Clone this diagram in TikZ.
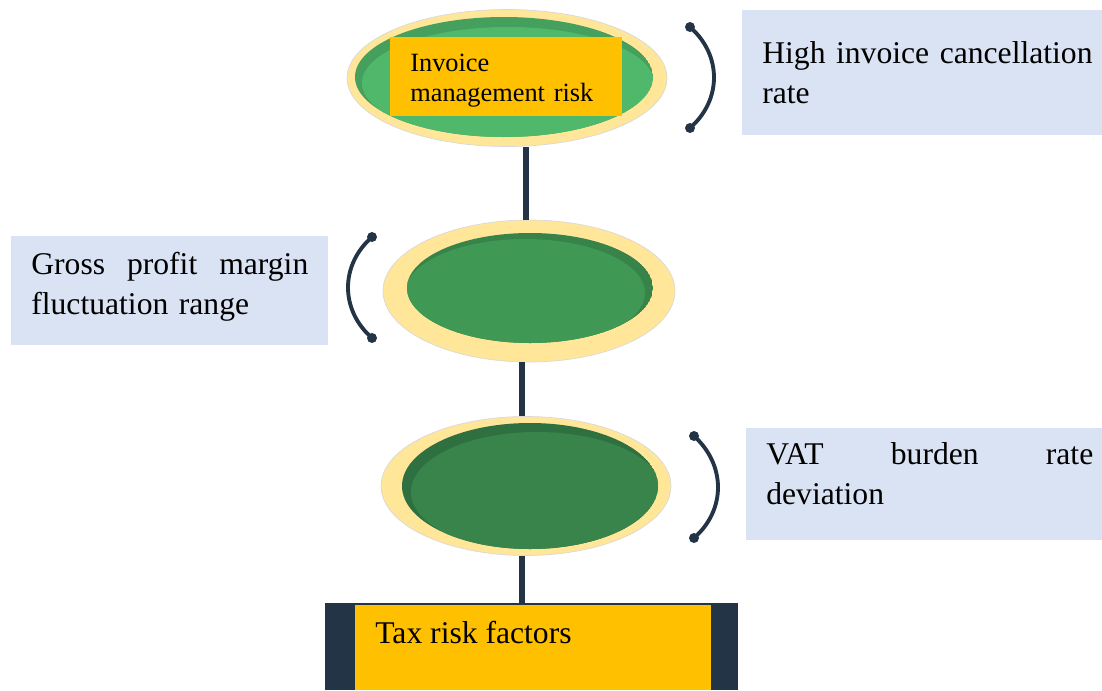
\documentclass[tikz,border=0pt]{standalone}
\usepackage{fontspec}
\setmainfont{Liberation Serif}
\usetikzlibrary{shapes.geometric,calc}
\definecolor{navy}{HTML}{243447}
\definecolor{cream}{HTML}{FFE699}
\definecolor{orng}{HTML}{FFC000}
\definecolor{lblue}{HTML}{DAE3F3}
\definecolor{gAlight}{HTML}{50B86B}
\definecolor{gArim}{HTML}{45A05D}
\definecolor{gBlight}{HTML}{3F9853}
\definecolor{gBrim}{HTML}{37834A}
\definecolor{gClight}{HTML}{38844B}
\definecolor{gCrim}{HTML}{2F7040}
\tikzset{
  outerell/.style={ellipse, fill=cream, draw=black!15, line width=0.4pt, inner sep=0pt},
  conn/.style={draw=navy, line width=3.4pt},
  brack/.style={draw=navy, line width=2.2pt},
  dotnode/.style={circle, fill=navy, inner sep=0pt, minimum size=0.2cm},
  labbox/.style={rectangle, fill=lblue, inner sep=0pt},
  labtext/.style={anchor=north west, inner sep=0pt, align=left, font=\fontsize{18}{22.7}\selectfont},
}
\begin{document}
\begin{tikzpicture}[x=0.02cm, y=-0.02cm]
\useasboundingbox (0,0) rectangle (1102,690);
% ellipse nodes
\node[outerell, minimum width=6.4cm, minimum height=2.74cm] (e1) at (507,78) {};
\node[outerell, minimum width=5.84cm, minimum height=2.84cm] (e2) at (529,291) {};
\node[outerell, minimum width=5.8cm, minimum height=2.78cm] (e3) at (526,486) {};
% bottom bar
\node[rectangle, fill=navy, inner sep=0pt, minimum width=8.26cm, minimum height=1.74cm] (base) at (531.5,646.5) {};
\node[rectangle, fill=orng, inner sep=0pt, minimum width=7.12cm, minimum height=1.7cm] (taxbox) at (533,647.5) {};
% connectors
\draw[conn] ($(e1.south)+(19,0)$) -- ($(e2.north)+(-3,0)$);
\draw[conn] ($(e2.south)+(-7,0)$) -- ($(e3.north)+(-4,0)$);
\draw[conn] ($(e3.south)+(-4,0)$) -- ($(base.north)+(-9.5,0)$);
% inner greens
\begin{scope}
  \clip (504,77) ellipse [x radius=149, y radius=60];
  \fill[gArim] (504,77) ellipse [x radius=149, y radius=60];
  \fill[gAlight] (508,83) ellipse [x radius=146, y radius=56];
\end{scope}
\begin{scope}
  \clip (530,288) ellipse [x radius=123, y radius=55];
  \fill[gBrim] (530,288) ellipse [x radius=123, y radius=55];
  \fill[gBlight] (525,293) ellipse [x radius=120, y radius=54];
\end{scope}
\begin{scope}
  \clip (530,486) ellipse [x radius=128, y radius=63];
  \fill[gCrim] (530,486) ellipse [x radius=128, y radius=63];
  \fill[gClight] (537,492) ellipse [x radius=126, y radius=60];
\end{scope}
% invoice box
\node[rectangle, fill=orng, inner sep=0pt, minimum width=4.64cm, minimum height=1.58cm] (invbox) at (506,76.5) {};
\node[anchor=north west, inner sep=0pt, align=left, text width=3.9cm, font=\fontsize{15}{17}\selectfont] (tinv) at (410,54) {Invoice\\management risk};
\node[anchor=base west, inner sep=0pt, font=\fontsize{18}{22.7}\selectfont] (ttax) at (375,643) {Tax risk factors};
% label boxes
\node[labbox, minimum width=7.2cm, minimum height=2.5cm] (box1) at (922,72.5) {};
\node[labtext, text width=6.9cm] (t1) at (762,41.5) {High invoice cancellation\\rate};
\node[labbox, minimum width=6.34cm, minimum height=2.18cm] (box2) at (169.5,290.5) {};
\node[labtext, text width=5.54cm] (t2) at (31,251.5) {Gross\hfill profit\hfill margin\\fluctuation range};
\node[labbox, minimum width=7.12cm, minimum height=2.24cm] (box3) at (924,484) {};
\node[labtext, text width=6.54cm] (t3) at (766,442.5) {VAT\hfill burden\hfill rate\\deviation};
% brackets
\node[dotnode] (b1a) at (690,27) {};
\node[dotnode] (b1b) at (690,128) {};
\draw[brack] (b1a.center) .. controls (722,55) and (722,100) .. (b1b.center);
\node[dotnode] (b2a) at (372,237) {};
\node[dotnode] (b2b) at (372,338) {};
\draw[brack] (b2a.center) .. controls (340,265) and (340,310) .. (b2b.center);
\node[dotnode] (b3a) at (694,436) {};
\node[dotnode] (b3b) at (694,538) {};
\draw[brack] (b3a.center) .. controls (726,465) and (726,510) .. (b3b.center);
\end{tikzpicture}
\end{document}
